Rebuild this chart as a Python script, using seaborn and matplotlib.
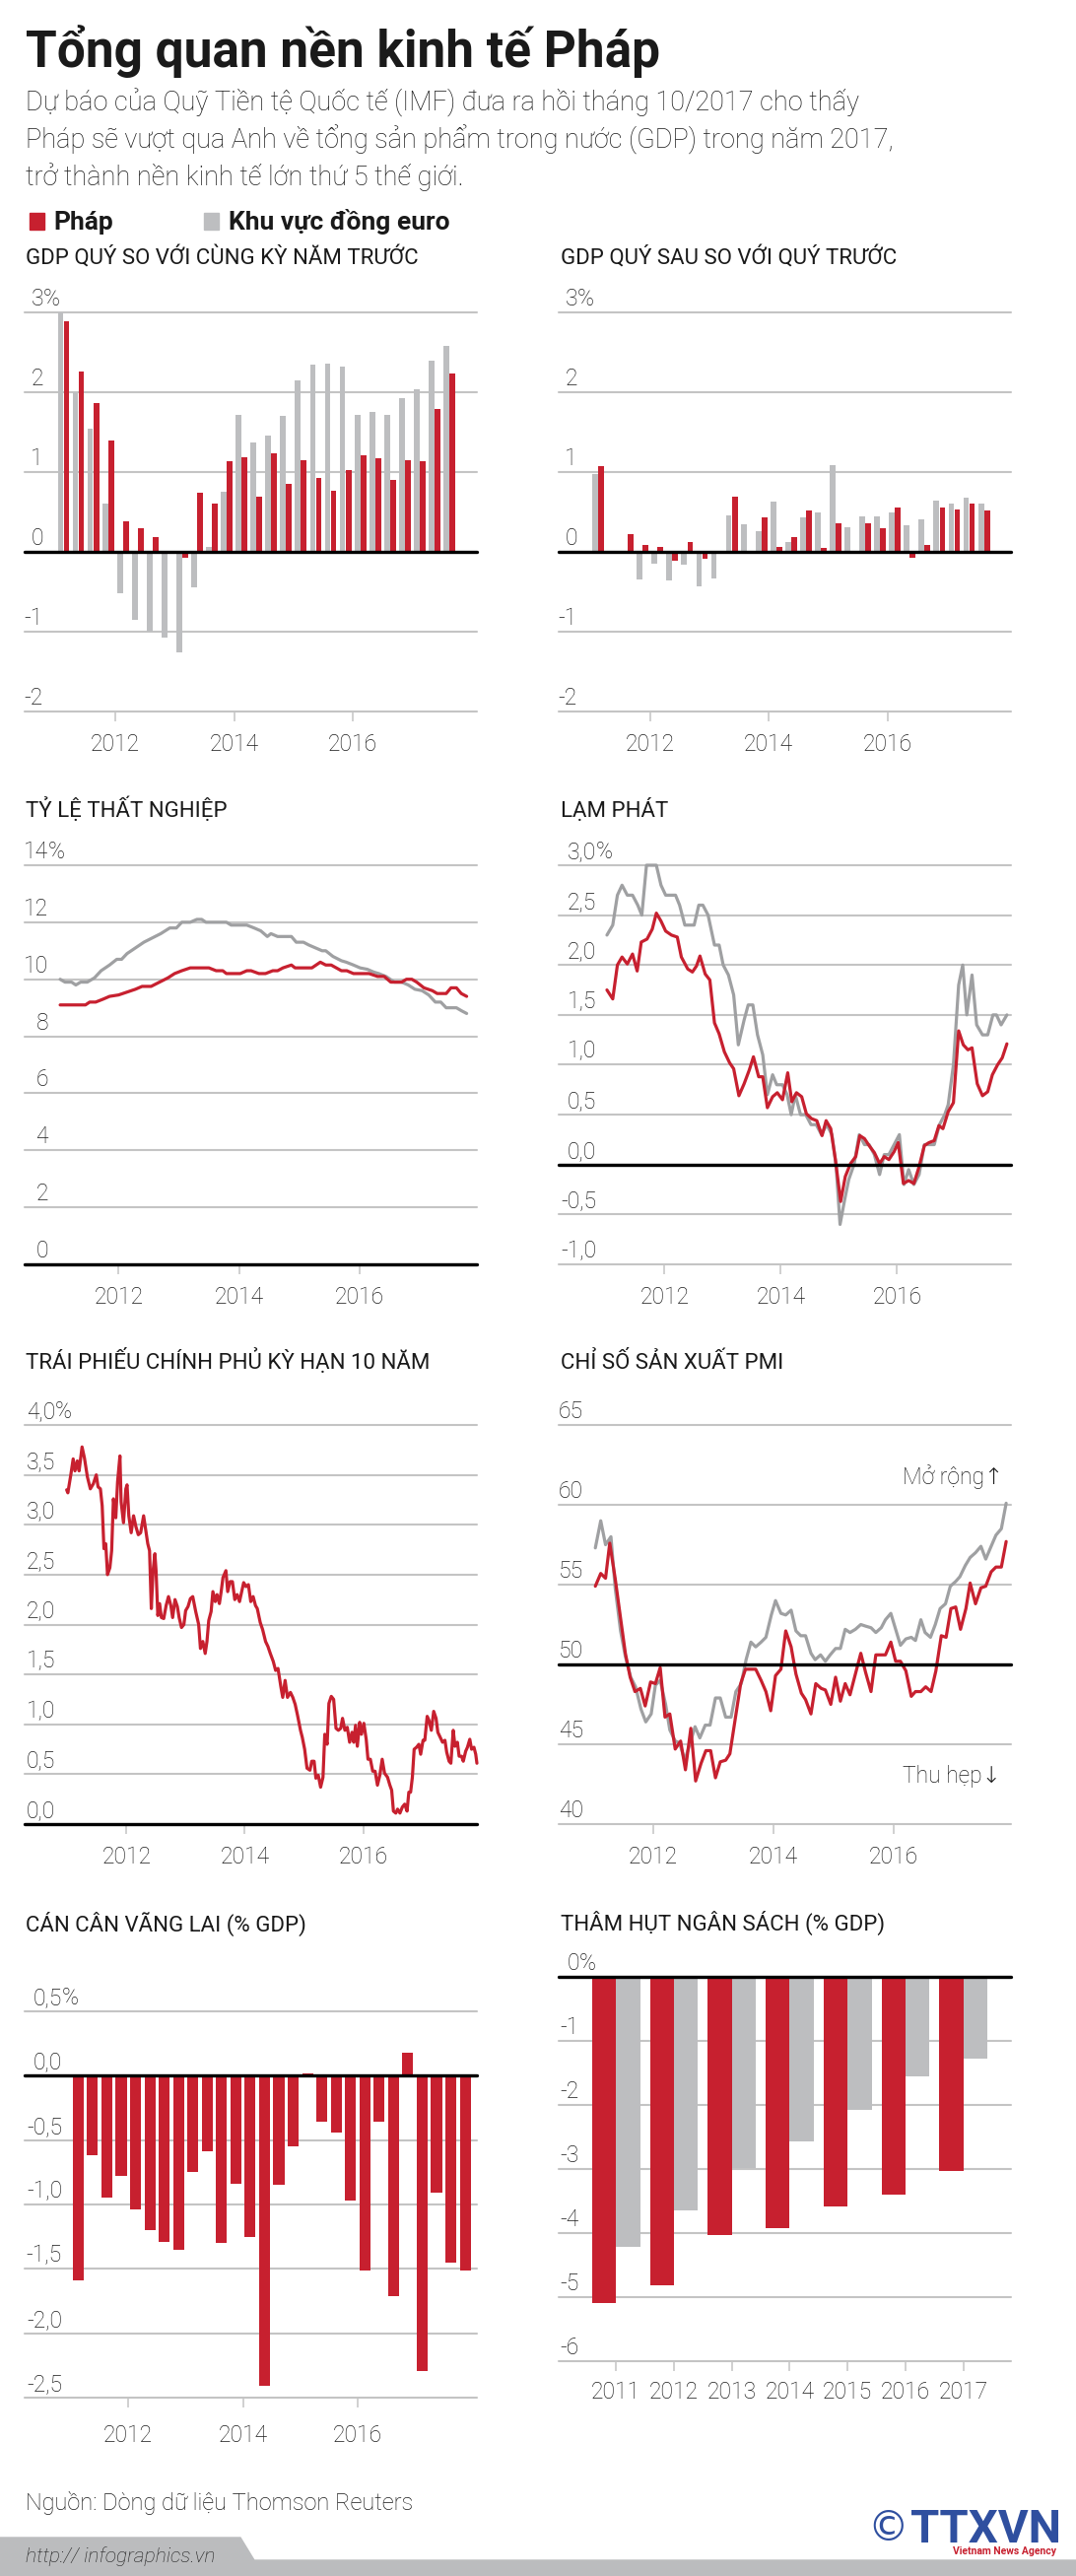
import numpy as np
import pandas as pd
import seaborn as sns
import matplotlib
matplotlib.use("Agg")
import matplotlib.pyplot as plt
from matplotlib import transforms
from matplotlib.patches import Polygon, Rectangle

sns.set_theme(style="white")
plt.rcParams["font.family"] = ["Roboto", "DejaVu Sans"]

W, H, DPI = 1092, 2614, 100
RED = "#c7202f"
GREY_BAR = "#bdbec0"
GREY_LINE = "#9fa0a2"
GRID = "#c4c4c4"
INK = "#1a1a1a"
TICK_FS = 16.5

# ---------------- data ----------------
# GDP, quarterly, 2011Q1 .. 2017Q3
gdp_yoy_fr = [2.89, 2.26, 1.86, 1.39, 0.38, 0.30, 0.19, 0.0, -0.07, 0.74, 0.60, 1.13, 1.19, 0.69,
              1.24, 0.85, 1.15, 0.93, 0.77, 1.03, 1.21, 1.17, 0.90, 1.15, 1.13, 1.79, 2.23]
gdp_yoy_ez = [3.0, 2.0, 1.54, 0.60, -0.52, -0.85, -1.0, -1.07, -1.26, -0.44, 0.06, 0.75, 1.72, 1.37,
              1.46, 1.70, 2.15, 2.35, 2.36, 2.32, 1.72, 1.75, 1.72, 1.92, 2.04, 2.39, 2.58]
gdp_qoq_fr = [1.07, 0.0, 0.22, 0.09, 0.06, -0.11, 0.12, -0.09, 0.0, 0.69, -0.02, 0.43, 0.06, 0.19,
              0.52, 0.05, 0.36, -0.01, 0.36, 0.30, 0.55, -0.07, 0.09, 0.55, 0.53, 0.60, 0.52]
gdp_qoq_ez = [0.98, -0.02, 0.0, -0.35, -0.15, -0.36, -0.16, -0.43, -0.33, 0.46, 0.34, 0.26, 0.63, 0.12,
              0.43, 0.49, 1.09, 0.31, 0.44, 0.45, 0.50, 0.33, 0.41, 0.64, 0.61, 0.68, 0.60]

# unemployment, %
unemp_fr_t = [2011.03, 2011.45, 2011.52, 2011.62, 2011.74, 2011.85, 2012.0, 2012.14, 2012.28, 2012.39,
              2012.54, 2012.68, 2012.82, 2012.93, 2013.05, 2013.19, 2013.5, 2013.62, 2013.73, 2013.79,
              2014.02, 2014.13, 2014.2, 2014.33, 2014.44, 2014.56, 2014.64, 2014.73, 2014.87, 2014.93,
              2015.21, 2015.35, 2015.44, 2015.53, 2015.7, 2015.79, 2015.9, 2016.16, 2016.3, 2016.41,
              2016.52, 2016.7, 2016.78, 2016.87, 2016.95, 2017.07, 2017.21, 2017.29, 2017.44, 2017.52,
              2017.61, 2017.69, 2017.78]
unemp_fr = [9.1, 9.1, 9.2, 9.2, 9.3, 9.4, 9.45, 9.55, 9.65, 9.75,
            9.75, 9.9, 10.05, 10.2, 10.3, 10.4, 10.4, 10.3, 10.3, 10.2,
            10.2, 10.3, 10.3, 10.2, 10.2, 10.3, 10.3, 10.4, 10.5, 10.4,
            10.4, 10.6, 10.5, 10.5, 10.3, 10.3, 10.2, 10.2, 10.1, 10.1,
            9.9, 9.9, 10.0, 10.0, 9.9, 9.7, 9.6, 9.5, 9.5, 9.7,
            9.7, 9.5, 9.4]
unemp_ez_t = [2011.03, 2011.11, 2011.22, 2011.29, 2011.37, 2011.48, 2011.6, 2011.71, 2011.85, 2011.97,
              2012.05, 2012.14, 2012.28, 2012.42, 2012.56, 2012.7, 2012.85, 2012.96, 2013.05, 2013.19,
              2013.3, 2013.38, 2013.45, 2013.79, 2013.87, 2014.13, 2014.25, 2014.36, 2014.47, 2014.53,
              2014.64, 2014.87, 2014.95, 2015.07, 2015.16, 2015.27, 2015.38, 2015.44, 2015.56, 2015.7,
              2015.78, 2015.9, 2016.01, 2016.13, 2016.24, 2016.32, 2016.44, 2016.58, 2016.7, 2016.81,
              2016.92, 2017.04, 2017.15, 2017.26, 2017.35, 2017.44, 2017.61, 2017.69, 2017.78]
unemp_ez = [10.0, 9.9, 9.9, 9.8, 9.9, 9.9, 10.05, 10.3, 10.5, 10.7,
            10.7, 10.9, 11.1, 11.3, 11.45, 11.6, 11.8, 11.8, 12.0, 12.0,
            12.1, 12.1, 12.0, 12.0, 11.9, 11.9, 11.8, 11.7, 11.5, 11.6,
            11.5, 11.5, 11.3, 11.3, 11.2, 11.1, 11.0, 11.0, 10.8, 10.65,
            10.6, 10.5, 10.4, 10.35, 10.25, 10.2, 10.1, 9.9, 9.9, 9.8,
            9.65, 9.6, 9.45, 9.2, 9.2, 9.0, 9.0, 8.9, 8.8]

# inflation, %
infl_ez_t = [2011.01, 2011.11, 2011.19, 2011.27, 2011.36, 2011.45, 2011.54, 2011.61, 2011.69, 2011.86,
             2011.94, 2012.02, 2012.19, 2012.26, 2012.35, 2012.51, 2012.59, 2012.66, 2012.75, 2012.86,
             2012.94, 2013.01, 2013.1, 2013.19, 2013.27, 2013.37, 2013.44, 2013.52, 2013.6, 2013.69,
             2013.77, 2013.86, 2013.93, 2014.03, 2014.11, 2014.18, 2014.25, 2014.34, 2014.43, 2014.52,
             2014.61, 2014.7, 2014.79, 2014.88, 2014.95, 2015.02, 2015.1, 2015.17, 2015.26, 2015.35,
             2015.44, 2015.52, 2015.61, 2015.7, 2015.78, 2015.86, 2015.95, 2016.04, 2016.12, 2016.2,
             2016.29, 2016.38, 2016.47, 2016.55, 2016.64, 2016.73, 2016.82, 2016.88, 2016.97, 2017.06,
             2017.13, 2017.2, 2017.29, 2017.37, 2017.47, 2017.56, 2017.65, 2017.71, 2017.79, 2017.89]
infl_ez = [2.3, 2.4, 2.7, 2.8, 2.7, 2.7, 2.6, 2.5, 3.0, 3.0,
           2.8, 2.7, 2.7, 2.6, 2.4, 2.4, 2.6, 2.6, 2.5, 2.2,
           2.2, 2.0, 1.9, 1.7, 1.2, 1.45, 1.6, 1.6, 1.3, 1.1,
           0.7, 0.9, 0.8, 0.8, 0.7, 0.5, 0.7, 0.5, 0.5, 0.4,
           0.4, 0.3, 0.4, 0.3, 0.0, -0.6, -0.35, -0.15, 0.0, 0.3,
           0.2, 0.2, 0.1, -0.1, 0.1, 0.1, 0.2, 0.3, -0.2, -0.05,
           -0.2, -0.1, 0.2, 0.2, 0.2, 0.4, 0.5, 0.6, 1.0, 1.8,
           2.0, 1.5, 1.9, 1.4, 1.3, 1.3, 1.5, 1.5, 1.4, 1.5]
infl_fr_t = [2011.01, 2011.11, 2011.19, 2011.27, 2011.36, 2011.45, 2011.53, 2011.6, 2011.7, 2011.79,
             2011.86, 2011.94, 2012.02, 2012.12, 2012.22, 2012.29, 2012.4, 2012.48, 2012.55, 2012.61,
             2012.7, 2012.78, 2012.86, 2012.94, 2013.03, 2013.12, 2013.19, 2013.28, 2013.37, 2013.46,
             2013.53, 2013.62, 2013.69, 2013.77, 2013.86, 2013.94, 2014.03, 2014.12, 2014.19, 2014.27,
             2014.36, 2014.44, 2014.53, 2014.62, 2014.71, 2014.78, 2014.86, 2014.94, 2015.03, 2015.11,
             2015.2, 2015.29, 2015.36, 2015.44, 2015.52, 2015.61, 2015.7, 2015.78, 2015.86, 2015.95,
             2016.02, 2016.11, 2016.2, 2016.29, 2016.38, 2016.47, 2016.55, 2016.64, 2016.72, 2016.79,
             2016.88, 2016.97, 2017.06, 2017.14, 2017.22, 2017.29, 2017.38, 2017.47, 2017.56, 2017.64,
             2017.73, 2017.81, 2017.89]
infl_fr = [1.75, 1.66, 2.0, 2.08, 2.01, 2.11, 1.94, 2.23, 2.26, 2.36,
           2.52, 2.44, 2.34, 2.3, 2.28, 2.08, 1.96, 1.93, 1.99, 2.09,
           1.91, 1.85, 1.42, 1.31, 1.13, 1.02, 0.96, 0.69, 0.81, 0.95,
           1.08, 0.88, 0.88, 0.57, 0.68, 0.72, 0.65, 0.92, 0.63, 0.72,
           0.68, 0.51, 0.46, 0.44, 0.29, 0.44, 0.36, 0.05, -0.37, -0.12,
           0.01, 0.08, 0.29, 0.26, 0.19, 0.12, 0.01, 0.08, 0.05, 0.13,
           0.22, -0.19, -0.16, -0.19, -0.02, 0.19, 0.22, 0.24, 0.39, 0.36,
           0.53, 0.62, 1.34, 1.2, 1.15, 1.17, 0.81, 0.69, 0.73, 0.9,
           1.0, 1.07, 1.21]

# French 10-year government bond yield, %
bond_t = [2010.99, 2011.01, 2011.06, 2011.10, 2011.13, 2011.17, 2011.20, 2011.25, 2011.29, 2011.34,
          2011.39, 2011.44, 2011.49, 2011.52, 2011.56, 2011.59, 2011.62, 2011.65, 2011.68, 2011.72,
          2011.75, 2011.78, 2011.82, 2011.85, 2011.89, 2011.91, 2011.95, 2011.99, 2012.01, 2012.04,
          2012.08, 2012.12, 2012.16, 2012.20, 2012.24, 2012.29, 2012.33, 2012.36, 2012.39, 2012.42,
          2012.45, 2012.48, 2012.50, 2012.53, 2012.56, 2012.59, 2012.63, 2012.67, 2012.71, 2012.75,
          2012.78, 2012.82, 2012.86, 2012.89, 2012.93, 2012.97, 2013.00, 2013.04, 2013.08, 2013.12,
          2013.17, 2013.22, 2013.25, 2013.29, 2013.33, 2013.36, 2013.39, 2013.43, 2013.46, 2013.50,
          2013.53, 2013.57, 2013.60, 2013.63, 2013.68, 2013.71, 2013.75, 2013.79, 2013.83, 2013.87,
          2013.91, 2013.94, 2013.98, 2014.02, 2014.06, 2014.10, 2014.14, 2014.18, 2014.21, 2014.26,
          2014.30, 2014.35, 2014.39, 2014.43, 2014.48, 2014.52, 2014.56, 2014.61, 2014.64, 2014.68,
          2014.72, 2014.77, 2014.81, 2014.85, 2014.89, 2014.94, 2014.97, 2015.01, 2015.05, 2015.10,
          2015.13, 2015.17, 2015.20, 2015.24, 2015.28, 2015.32, 2015.35, 2015.39, 2015.42, 2015.46,
          2015.50, 2015.54, 2015.58, 2015.62, 2015.65, 2015.69, 2015.73, 2015.77, 2015.81, 2015.84,
          2015.87, 2015.90, 2015.94, 2015.97, 2016.01, 2016.05, 2016.08, 2016.12, 2016.16, 2016.20,
          2016.24, 2016.28, 2016.32, 2016.36, 2016.41, 2016.45, 2016.48, 2016.51, 2016.55, 2016.58,
          2016.62, 2016.66, 2016.70, 2016.74, 2016.77, 2016.80, 2016.83, 2016.86, 2016.90, 2016.94,
          2016.97, 2017.01, 2017.04, 2017.08, 2017.11, 2017.15, 2017.19, 2017.23, 2017.26, 2017.30,
          2017.34, 2017.38, 2017.41, 2017.45, 2017.48, 2017.52, 2017.55, 2017.59, 2017.62, 2017.66,
          2017.69, 2017.73, 2017.76, 2017.80, 2017.83, 2017.87, 2017.90, 2017.92]
bond_yield = [3.35, 3.32, 3.50, 3.66, 3.54, 3.64, 3.54, 3.78, 3.67, 3.48,
              3.36, 3.41, 3.50, 3.38, 3.36, 3.19, 2.76, 2.81, 2.50, 2.57,
              2.74, 3.26, 3.07, 3.43, 3.69, 3.23, 3.02, 3.36, 3.40, 3.09,
              2.92, 3.09, 2.98, 2.90, 2.92, 3.09, 2.93, 2.81, 2.74, 2.16,
              2.54, 2.71, 2.54, 2.09, 2.21, 2.07, 2.06, 2.19, 2.28, 2.19,
              2.07, 2.25, 2.18, 2.07, 1.97, 2.00, 2.14, 2.18, 2.26, 2.28,
              2.13, 2.00, 1.76, 1.83, 1.71, 1.83, 2.04, 2.13, 2.33, 2.23,
              2.30, 2.21, 2.33, 2.47, 2.54, 2.33, 2.43, 2.43, 2.25, 2.30,
              2.23, 2.31, 2.42, 2.38, 2.40, 2.23, 2.28, 2.19, 2.16, 2.02,
              1.95, 1.83, 1.78, 1.71, 1.63, 1.54, 1.56, 1.37, 1.27, 1.44,
              1.27, 1.32, 1.27, 1.20, 1.09, 0.94, 0.87, 0.75, 0.56, 0.54,
              0.63, 0.63, 0.46, 0.49, 0.37, 0.47, 0.90, 0.80, 1.21, 1.28,
              1.25, 0.96, 0.94, 0.96, 1.06, 0.94, 0.97, 0.82, 0.92, 0.82,
              0.99, 0.78, 1.02, 0.90, 1.01, 0.85, 0.65, 0.65, 0.53, 0.53,
              0.39, 0.49, 0.65, 0.51, 0.47, 0.39, 0.34, 0.13, 0.11, 0.15,
              0.11, 0.17, 0.20, 0.13, 0.32, 0.32, 0.47, 0.75, 0.77, 0.80,
              0.70, 0.84, 0.84, 1.08, 1.04, 0.94, 1.13, 1.06, 0.92, 0.87,
              0.82, 0.84, 0.72, 0.63, 0.61, 0.94, 0.78, 0.82, 0.68, 0.68,
              0.63, 0.73, 0.77, 0.85, 0.75, 0.77, 0.70, 0.61]

# manufacturing PMI
pmi_ez_t = [2011.03, 2011.12, 2011.2, 2011.29, 2011.36, 2011.45, 2011.53, 2011.62, 2011.7, 2011.79,
            2011.87, 2011.96, 2012.03, 2012.11, 2012.2, 2012.27, 2012.36, 2012.43, 2012.52, 2012.61,
            2012.69, 2012.77, 2012.86, 2012.94, 2013.03, 2013.11, 2013.2, 2013.29, 2013.37, 2013.46,
            2013.54, 2013.62, 2013.7, 2013.79, 2013.87, 2013.96, 2014.03, 2014.12, 2014.2, 2014.29,
            2014.37, 2014.45, 2014.53, 2014.62, 2014.69, 2014.78, 2014.86, 2014.94, 2015.03, 2015.11,
            2015.19, 2015.27, 2015.36, 2015.45, 2015.53, 2015.62, 2015.7, 2015.79, 2015.86, 2015.95,
            2016.03, 2016.11, 2016.2, 2016.29, 2016.36, 2016.45, 2016.52, 2016.61, 2016.69, 2016.77,
            2016.86, 2016.94, 2017.03, 2017.1, 2017.19, 2017.27, 2017.36, 2017.45, 2017.53, 2017.62,
            2017.7, 2017.79, 2017.87]
pmi_ez = [57.3, 59.0, 57.5, 58.0, 54.8, 52.1, 50.5, 49.2, 48.6, 47.2,
          46.4, 46.9, 48.7, 49.0, 47.5, 45.9, 45.2, 45.1, 44.0, 45.1,
          46.1, 45.4, 46.2, 46.2, 47.9, 47.9, 46.7, 46.7, 48.3, 48.8,
          50.3, 51.4, 51.1, 51.4, 51.7, 53.1, 54.0, 53.2, 53.1, 53.4,
          52.1, 51.8, 51.8, 50.7, 50.3, 50.6, 50.2, 50.6, 51.0, 51.0,
          52.2, 52.0, 52.2, 52.5, 52.4, 52.3, 52.0, 52.3, 52.8, 53.2,
          52.2, 51.2, 51.6, 51.7, 51.5, 52.8, 52.0, 51.7, 52.5, 53.5,
          53.8, 54.9, 55.2, 55.5, 56.2, 56.7, 57.0, 57.4, 56.6, 57.4,
          58.1, 58.5, 60.1]
pmi_fr_t = [2011.03, 2011.12, 2011.2, 2011.27, 2011.36, 2011.45, 2011.53, 2011.61, 2011.69, 2011.78,
            2011.86, 2011.95, 2012.03, 2012.11, 2012.19, 2012.27, 2012.36, 2012.45, 2012.53, 2012.62,
            2012.7, 2012.79, 2012.87, 2012.95, 2013.03, 2013.11, 2013.2, 2013.27, 2013.36, 2013.45,
            2013.53, 2013.62, 2013.7, 2013.79, 2013.87, 2013.95, 2014.03, 2014.12, 2014.2, 2014.29,
            2014.37, 2014.46, 2014.53, 2014.62, 2014.7, 2014.79, 2014.86, 2014.95, 2015.03, 2015.11,
            2015.19, 2015.27, 2015.36, 2015.45, 2015.53, 2015.62, 2015.7, 2015.79, 2015.86, 2015.95,
            2016.03, 2016.11, 2016.2, 2016.29, 2016.36, 2016.45, 2016.53, 2016.62, 2016.7, 2016.79,
            2016.87, 2016.95, 2017.03, 2017.11, 2017.2, 2017.27, 2017.36, 2017.45, 2017.53, 2017.62,
            2017.7, 2017.79, 2017.87]
pmi_fr = [54.9, 55.7, 55.4, 57.6, 55.4, 52.9, 50.7, 49.2, 48.3, 48.5,
          47.4, 48.9, 48.8, 49.8, 46.7, 46.9, 44.7, 45.2, 43.4, 46.0,
          42.7, 43.8, 44.6, 44.6, 42.9, 43.9, 44.0, 44.4, 46.6, 48.8,
          49.7, 49.7, 49.7, 49.0, 48.3, 47.1, 49.3, 49.7, 52.1, 51.1,
          49.4, 48.2, 47.8, 46.9, 48.8, 48.5, 48.4, 47.5, 49.2, 47.7,
          48.8, 48.1, 49.4, 50.7, 49.5, 48.3, 50.6, 50.6, 50.6, 51.4,
          50.2, 50.2, 49.6, 48.0, 48.3, 48.3, 48.6, 48.3, 49.6, 51.8,
          51.7, 53.5, 53.6, 52.2, 53.5, 55.1, 53.8, 54.8, 54.9, 55.8,
          56.1, 56.1, 57.7]

# current account, % GDP, quarterly 2011Q1 .. 2017Q4
current_account = [-1.59, -0.62, -0.95, -0.78, -1.04, -1.20, -1.29, -1.35, -0.75, -0.59, -1.30, -0.84,
                   -1.25, -2.41, -0.85, -0.55, 0.02, -0.36, -0.44, -0.97, -1.51, -0.36, -1.71, 0.18,
                   -2.29, -0.91, -1.45, -1.51]

# budget balance, % GDP
budget_years = [2011, 2012, 2013, 2014, 2015, 2016, 2017]
budget_fr = [-5.09, -4.81, -4.03, -3.93, -3.58, -3.40, -3.03]
budget_ez = [-4.22, -3.64, -2.99, -2.57, -2.07, -1.55, -1.28]

# ---------------- drawing ----------------
fig = plt.figure(figsize=(W / DPI, H / DPI), dpi=DPI, facecolor="white")


def px_axes(left, top, right, bottom):
    ax = fig.add_axes([left / W, 1 - bottom / H, (right - left) / W, (bottom - top) / H])
    ax.set_facecolor("none")
    return ax


def fig_text(x, y, s, **kw):
    kw.setdefault("color", INK)
    fig.text(x / W, 1 - y / H, s, va="baseline", **kw)


def dress(ax, xlim, ylim, grid, labels, zero=None, label_dx=20,
          years=(2012, 2014, 2016), year_dy=40):
    ax.set_xlim(*xlim)
    ax.set_ylim(*ylim)
    for sp in ax.spines.values():
        sp.set_visible(False)
    ax.grid(False)
    for v in grid:
        ax.axhline(v, color=GRID, lw=1.5, zorder=0, clip_on=False)
    if zero is not None:
        ax.axhline(zero, color="black", lw=2.4, zorder=6, clip_on=False)
    lab_tr = transforms.offset_copy(ax.get_yaxis_transform(), fig=fig, x=label_dx, y=7, units="dots")
    for v, lab in zip(grid, labels):
        ax.text(0, v, lab.rstrip("%"), transform=lab_tr, ha="right", va="baseline",
                fontsize=TICK_FS, color=INK, fontweight="light")
        if lab.endswith("%"):
            ax.text(0, v, "%", transform=lab_tr, ha="left", va="baseline",
                    fontsize=TICK_FS, color=INK, fontweight="light")
    ax.set_yticks([])
    ax.set_xticks(years)
    ax.set_xticklabels([])
    ax.tick_params(axis="x", bottom=True, length=7.5, width=1.1, color=GRID, direction="out")
    yr_tr = transforms.offset_copy(ax.get_xaxis_transform(), fig=fig, y=-year_dy, units="dots")
    for yr in years:
        ax.text(yr, 0, str(yr), transform=yr_tr, ha="center", va="baseline",
                fontsize=TICK_FS, color=INK, fontweight="light")


def line(ax, t, v, color):
    sns.lineplot(x=t, y=v, ax=ax, color=color, lw=2.3, estimator=None, sort=False,
                 legend=False, clip_on=False, zorder=4)


# header
fig_text(26, 68, "Tổng quan nền kinh tế Pháp", fontsize=37, fontweight="bold")
subtitle = ["Dự báo của Quỹ Tiền tệ Quốc tế (IMF) đưa ra hồi tháng 10/2017 cho thấy",
            "Pháp sẽ vượt qua Anh về tổng sản phẩm trong nước (GDP) trong năm 2017,",
            "trở thành nền kinh tế lớn thứ 5 thế giới."]
for i, s in enumerate(subtitle):
    fig_text(26, 113 + 37.5 * i, s, fontsize=19.5, fontweight="light")
fig.patches.append(Rectangle((30 / W, 1 - 233 / H), 15 / W, 17 / H, transform=fig.transFigure,
                             color=RED, figure=fig))
fig_text(54, 233, "Pháp", fontsize=19, fontweight="bold")
fig.patches.append(Rectangle((207 / W, 1 - 233 / H), 15 / W, 17 / H, transform=fig.transFigure,
                             color=GREY_BAR, figure=fig))
fig_text(232, 233, "Khu vực đồng euro", fontsize=19, fontweight="bold")

LX0, LX1, RX0, RX1 = 25, 484, 567, 1026
TITLE_FS = 16

# row 1: GDP bars
quarters = pd.period_range("2011Q1", periods=len(gdp_yoy_fr), freq="Q")
q_mid = np.asarray(quarters.year + (quarters.quarter - 0.5) / 4, dtype=float)
gdp_grid = [3, 2, 1, 0, -1, -2]
gdp_labels = ["3%", "2", "1", "0", "-1", "-2"]

fig_text(26, 268, "GDP QUÝ SO VỚI CÙNG KỲ NĂM TRƯỚC", fontsize=TITLE_FS)
ax = px_axes(LX0, 317, LX1, 722)
ax.bar(q_mid - 0.05, gdp_yoy_ez, width=0.097, color=GREY_BAR, lw=0, zorder=2)
ax.bar(q_mid + 0.05, gdp_yoy_fr, width=0.097, color=RED, lw=0, zorder=3)
dress(ax, (2010.47, 2018.09), (-2, 3), gdp_grid, gdp_labels, zero=0, label_dx=19)

fig_text(569, 268, "GDP QUÝ SAU SO VỚI QUÝ TRƯỚC", fontsize=TITLE_FS)
ax = px_axes(RX0, 317, RX1, 722)
ax.bar(q_mid - 0.05, gdp_qoq_ez, width=0.097, color=GREY_BAR, lw=0, zorder=2)
ax.bar(q_mid + 0.05, gdp_qoq_fr, width=0.097, color=RED, lw=0, zorder=3)
dress(ax, (2010.46, 2018.08), (-2, 3), gdp_grid, gdp_labels, zero=0, label_dx=19)

# row 2: unemployment / inflation
fig_text(26, 829, "TỶ LỆ THẤT NGHIỆP", fontsize=TITLE_FS)
ax = px_axes(LX0, 878, LX1, 1283)
line(ax, unemp_ez_t, unemp_ez, GREY_LINE)
line(ax, unemp_fr_t, unemp_fr, RED)
dress(ax, (2010.44, 2017.95), (0, 14), [14, 12, 10, 8, 6, 4, 2, 0],
      ["14%", "12", "10", "8", "6", "4", "2", "0"], zero=0, label_dx=24)

fig_text(569, 829, "LẠM PHÁT", fontsize=TITLE_FS)
ax = px_axes(RX0, 878, RX1, 1283)
line(ax, infl_ez_t, infl_ez, GREY_LINE)
line(ax, infl_fr_t, infl_fr, RED)
dress(ax, (2010.18, 2017.96), (-1, 3), [3, 2.5, 2, 1.5, 1, 0.5, 0, -0.5, -1],
      ["3,0%", "2,5", "2,0", "1,5", "1,0", "0,5", "0,0", "-0,5", "-1,0"], zero=0, label_dx=38)

# row 3: bond yield / PMI
fig_text(26, 1389, "TRÁI PHIẾU CHÍNH PHỦ KỲ HẠN 10 NĂM", fontsize=TITLE_FS)
ax = px_axes(LX0, 1446, LX1, 1851)
line(ax, bond_t, bond_yield, RED)
dress(ax, (2010.28, 2017.92), (0, 4), [4, 3.5, 3, 2.5, 2, 1.5, 1, 0.5, 0],
      ["4,0%", "3,5", "3,0", "2,5", "2,0", "1,5", "1,0", "0,5", "0,0"], zero=0, label_dx=31)

fig_text(569, 1389, "CHỈ SỐ SẢN XUẤT PMI", fontsize=TITLE_FS)
ax = px_axes(RX0, 1446, RX1, 1851)
line(ax, pmi_ez_t, pmi_ez, GREY_LINE)
line(ax, pmi_fr_t, pmi_fr, RED)
dress(ax, (2010.42, 2017.95), (40, 65), [65, 60, 55, 50, 45, 40],
      ["65", "60", "55", "50", "45", "40"], zero=50, label_dx=25)
up_tr = transforms.offset_copy(ax.get_yaxis_transform(), fig=fig, x=-8, y=21, units="dots")
ax.text(1, 60, "Mở rộng↑", transform=up_tr, ha="right", va="baseline", fontsize=TICK_FS,
        color=INK, fontweight="light", family=["Roboto", "DejaVu Sans"])
dn_tr = transforms.offset_copy(ax.get_yaxis_transform(), fig=fig, x=-10, y=-39, units="dots")
ax.text(1, 45, "Thu hẹp↓", transform=dn_tr, ha="right", va="baseline", fontsize=TICK_FS,
        color=INK, fontweight="light", family=["Roboto", "DejaVu Sans"])

# row 4: current account / budget
ca_quarters = pd.period_range("2011Q1", periods=len(current_account), freq="Q")
ca_mid = np.asarray(ca_quarters.year + (ca_quarters.quarter - 0.5) / 4, dtype=float)
fig_text(26, 1960, "CÁN CÂN VÃNG LAI (% GDP)", fontsize=TITLE_FS)
ax = px_axes(LX0, 2041, LX1, 2433)
ax.bar(ca_mid, current_account, width=0.19, color=RED, lw=0, zorder=3)
dress(ax, (2010.19, 2018.08), (-2.5, 0.5), [0.5, 0, -0.5, -1, -1.5, -2, -2.5],
      ["0,5%", "0,0", "-0,5", "-1,0", "-1,5", "-2,0", "-2,5"], zero=0, label_dx=38, year_dy=45)

fig_text(569, 1959, "THÂM HỤT NGÂN SÁCH (% GDP)", fontsize=TITLE_FS)
ax = px_axes(RX0, 2006, RX1, 2396)
yrs = np.asarray(budget_years, dtype=float)
ax.bar(yrs - 0.2075, budget_fr, width=0.415, color=RED, lw=0, zorder=3)
ax.bar(yrs + 0.2075, budget_ez, width=0.415, color=GREY_BAR, lw=0, zorder=2)
dress(ax, (2010.01, 2017.82), (-6, 0), [0, -1, -2, -3, -4, -5, -6],
      ["0%", "-1", "-2", "-3", "-4", "-5", "-6"], zero=0, label_dx=21,
      years=budget_years, year_dy=38)

# footer
fig_text(26, 2547, "Nguồn: Dòng dữ liệu Thomson Reuters", fontsize=17, fontweight="light")
strip = "#bbbcbe"
fig.patches.append(Polygon([(0, 1 - 2575 / H), (244 / W, 1 - 2575 / H), (258 / W, 1 - 2598 / H),
                            (1, 1 - 2598 / H), (1, 0), (0, 0)],
                           closed=True, transform=fig.transFigure, color=strip, figure=fig))
fig_text(26, 2600, "http:// infographics.vn", fontsize=15, style="italic", fontweight="light")
fig_text(880, 2578, "©", fontsize=30, color="#2f4f9f", family=["DejaVu Sans"])
fig_text(924, 2580, "TTXVN", fontsize=34, fontweight="bold", color="#2f4f9f")
fig.text(1072 / W, 1 - 2592 / H, "Vietnam News Agency", fontsize=7.5, fontweight="bold",
         color=RED, ha="right", va="baseline")

fig.savefig("out.png", dpi=DPI, facecolor="white")
